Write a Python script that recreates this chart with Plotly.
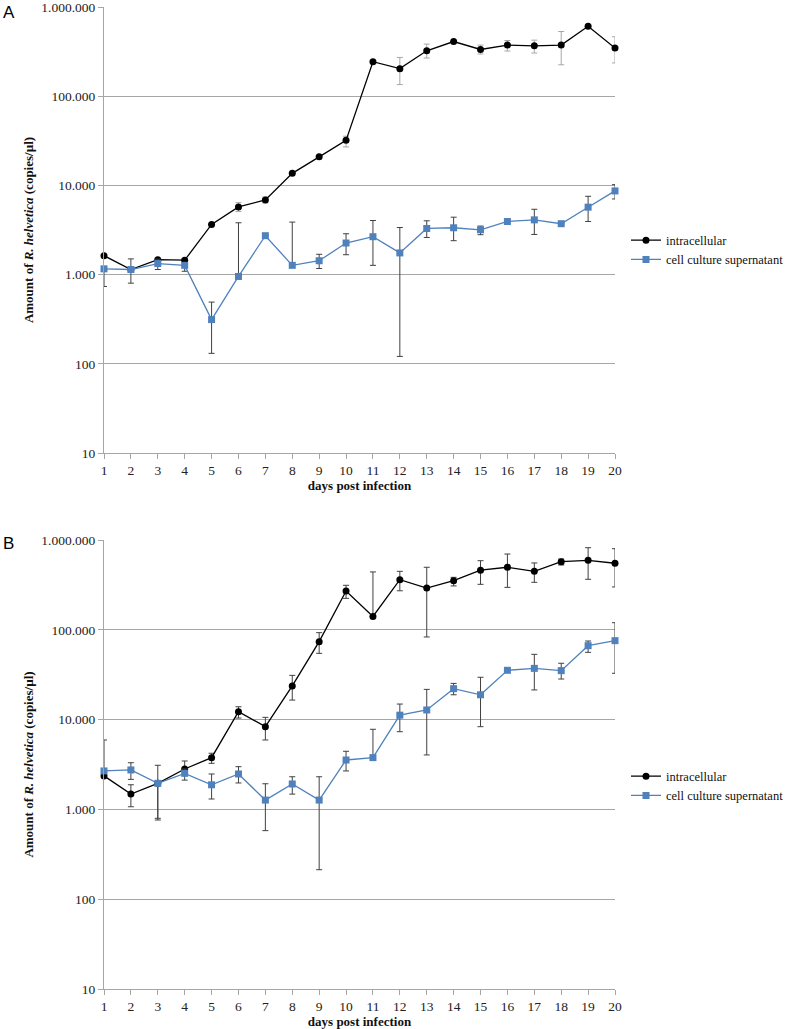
import plotly.graph_objects as go

days = list(range(1, 21))

# Panel A
A_intra = [1630, 1140, 1470, 1450, 3650, 5740, 6870, 13650, 20900, 32000,
           243700, 203600, 323000, 410000, 334000, 374000, 367000, 374000, 609000, 347000]
A_intra_hi = [1630, 1140, 1470, 1450, 3650, 6410, 7430, 13650, 20900, 35600,
              243700, 272000, 384000, 410000, 374000, 421000, 425000, 531000, 609000, 464000]
A_intra_lo = [1630, 1140, 1470, 1450, 3650, 5090, 6370, 13650, 20900, 27000,
              243700, 135000, 268000, 410000, 297000, 321000, 305000, 225000, 609000, 236000]

A_sup = [1160, 1140, 1330, 1270, 313, 953, 2730, 1270, 1430, 2260,
         2660, 1750, 3290, 3350, 3180, 3940, 4110, 3720, 5700, 8670]
A_sup_hi = [1160, 1500, 1490, 1270, 492, 3810, 2730, 3880, 1690, 2870,
            4040, 3370, 4010, 4400, 3500, 3940, 5400, 3720, 7550, 10200]
A_sup_lo = [736, 802, 1140, 1090, 131, 953, 2730, 1270, 1170, 1670,
            1270, 121, 2610, 2400, 2800, 3940, 2820, 3720, 3940, 7050]

# Panel B
B_intra = [2360, 1480, 1950, 2820, 3770, 12250, 8340, 23700, 73800, 270000,
           141000, 361000, 292000, 352000, 461000, 497000, 448000, 573000, 594000, 551000]
B_intra_hi = [5930, 1880, 1950, 3460, 4220, 13900, 10600, 31100, 92900, 313000,
              441000, 448000, 497000, 384000, 588000, 698000, 555000, 614000, 821000, 800000]
B_intra_lo = [2360, 1070, 762, 2820, 3260, 10400, 5930, 16500, 54700, 224000,
              141000, 272000, 83200, 308000, 321000, 297000, 338000, 527000, 365000, 300000]

B_sup = [2680, 2750, 1950, 2520, 1880, 2480, 1270, 1920, 1270, 3550,
         3770, 11200, 12800, 22100, 18900, 35400, 37200, 35100, 66500, 75700]
B_sup_hi = [2680, 3310, 3100, 2820, 2480, 2990, 1930, 2310, 2310, 4440,
            7800, 14900, 21700, 25300, 29600, 35400, 53300, 42400, 75000, 120000]
B_sup_lo = [2680, 2160, 796, 2120, 1306, 1970, 580, 1480, 213, 2680,
            3770, 7330, 4040, 18900, 8340, 35400, 21400, 28300, 56100, 32800]

y_tickvals = [10, 100, 1000, 10000, 100000, 1000000]
y_ticktext = ["10", "100", "1.000", "10.000", "100.000", "1.000.000"]
names = ["intracellular", "cell culture supernatant"]
panel_labels = ["A", "B"]

SERIF = "Liberation Serif"
BLUE = "#4f81bd"
GRID = "#a6a6a6"

# figure geometry (pixels)
W, H = 788, 1029
ML, MR, MT, MB = 104, 173, 7, 40
W_plot = W - ML - MR
H_plot = H - MT - MB


def py2paper(py):
    return (H - MB - py) / H_plot


def px2paper(px):
    return (px - ML) / W_plot


def err(vals, hi, lo, color):
    return dict(type="data", symmetric=False,
                array=[h - v for v, h in zip(vals, hi)],
                arrayminus=[v - l for v, l in zip(vals, lo)],
                color=color, thickness=1, width=3)


fig = go.Figure()

panels = [
    ("x", "y", "legend", A_intra, A_intra_hi, A_intra_lo, A_sup, A_sup_hi, A_sup_lo, "#a8a8a8"),
    ("x2", "y2", "legend2", B_intra, B_intra_hi, B_intra_lo, B_sup, B_sup_hi, B_sup_lo, "#404040"),
]
for xa, ya, lg, iv, ih, il, sv, sh, sl, icol in panels:
    fig.add_trace(go.Scatter(
        x=days, y=iv, name=names[0], mode="lines+markers",
        line=dict(color="#000000", width=1.3),
        marker=dict(symbol="circle", size=7, color="#000000"),
        error_y=err(iv, ih, il, icol),
        xaxis=xa, yaxis=ya, legend=lg, cliponaxis=False))
    fig.add_trace(go.Scatter(
        x=days, y=sv, name=names[1], mode="lines+markers",
        line=dict(color=BLUE, width=1.3),
        marker=dict(symbol="square", size=7, color=BLUE),
        error_y=err(sv, sh, sl, "#404040"),
        xaxis=xa, yaxis=ya, legend=lg, cliponaxis=False))

xcommon = dict(range=[1, 20], tickvals=days, ticks="outside", ticklen=5,
               tickcolor=GRID, showline=True, linecolor=GRID, showgrid=False,
               zeroline=False, automargin=False, ticklabeloverflow="allow",
               tickfont=dict(family=SERIF, size=13.5, color="#222"),
               title=dict(text="<b>days post infection</b>", standoff=3,
                          font=dict(family=SERIF, size=13, color="#111")))
ycommon = dict(type="log", range=[1, 6], tickvals=y_tickvals, ticktext=y_ticktext,
               ticks="outside", ticklen=5, tickcolor=GRID, showline=True,
               linecolor=GRID, showgrid=True, gridcolor=GRID, gridwidth=1,
               zeroline=False, automargin=False, ticklabeloverflow="allow",
               tickfont=dict(family=SERIF, size=13.5, color="#222"),
               title=dict(text="<b>Amount of <i>R. helvetica</i> (copies/µl)</b>",
                          standoff=4, font=dict(family=SERIF, size=13, color="#111")))

legcommon = dict(font=dict(family=SERIF, size=12.5, color="#111"),
                 bgcolor="rgba(0,0,0,0)", xanchor="left", yanchor="middle",
                 tracegroupgap=0, itemwidth=30)

fig.update_layout(
    width=W, height=H,
    paper_bgcolor="white", plot_bgcolor="white",
    margin=dict(l=ML, r=MR, t=MT, b=MB, autoexpand=False),
    showlegend=True,
    xaxis=dict(domain=[0, 1], anchor="y", **xcommon),
    yaxis=dict(domain=[py2paper(453), 1], anchor="x", **ycommon),
    xaxis2=dict(domain=[0, 1], anchor="y2", **xcommon),
    yaxis2=dict(domain=[0, py2paper(540)], anchor="x2", **ycommon),
    legend=dict(x=px2paper(626), y=py2paper(250), **legcommon),
    legend2=dict(x=px2paper(626), y=py2paper(786), **legcommon),
    annotations=[
        dict(text=lab, xref="paper", yref="paper",
             x=px2paper(1), y=py2paper(py), xanchor="left", yanchor="middle",
             showarrow=False,
             font=dict(family="Liberation Sans", size=17, color="#000"))
        for lab, py in zip(panel_labels, [13, 543])
    ],
)

fig.write_html("out.html", config={"displayModeBar": False},
               post_script="document.body.style.margin='0px';document.body.style.overflow='hidden';")
